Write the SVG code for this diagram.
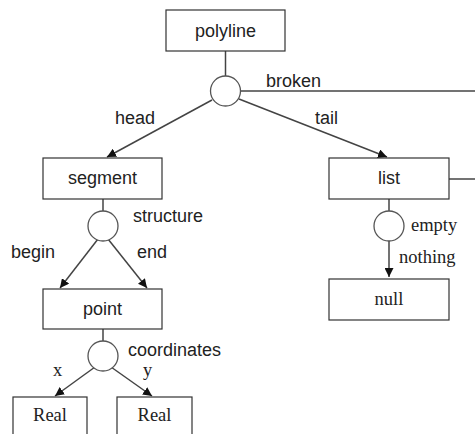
<svg xmlns="http://www.w3.org/2000/svg" width="475" height="434" viewBox="0 0 475 434">
<defs>
<marker id="arr" viewBox="0 0 10 10" refX="10" refY="5" markerWidth="9" markerHeight="9" markerUnits="userSpaceOnUse" orient="auto">
<path d="M0,0 L10,5 L0,10 z" fill="#111"/>
</marker>
</defs>
<style>
.box{fill:#fff;stroke:#333;stroke-width:1.2}
.jn{fill:#fff;stroke:#555;stroke-width:1.3}
.ln{fill:none;stroke:#444;stroke-width:1.5}
.ar{fill:none;stroke:#444;stroke-width:1.5;marker-end:url(#arr)}
.s{font-family:"Liberation Sans",Arial,sans-serif;font-size:18px;fill:#222}
.r{font-family:"Liberation Serif","Times New Roman",serif;font-size:18.5px;fill:#222}
.c{text-anchor:middle}
</style>
<rect width="475" height="434" fill="#fff"/>
<g id="connectors">
<line class="ln" x1="225.5" y1="51" x2="225.5" y2="77"/>
<line class="ln" x1="240" y1="91" x2="475" y2="91"/>
<line class="ar" x1="212" y1="100" x2="107" y2="157"/>
<line class="ar" x1="239" y1="99" x2="387" y2="157"/>
<line class="ln" x1="103" y1="199" x2="103" y2="212"/>
<line class="ar" x1="98" y1="239" x2="60" y2="288"/>
<line class="ar" x1="108" y1="239" x2="147" y2="288"/>
<line class="ln" x1="103" y1="329" x2="103" y2="342"/>
<line class="ar" x1="95" y1="367" x2="55" y2="396"/>
<line class="ar" x1="111" y1="367" x2="152" y2="396"/>
<line class="ln" x1="449" y1="179" x2="475" y2="179"/>
<line class="ln" x1="389" y1="199" x2="389" y2="212"/>
<line class="ar" x1="389" y1="240" x2="389" y2="277"/>
<text class="s" x="266" y="87">broken</text>
<text class="s" x="115" y="124">head</text>
<text class="s" x="315" y="124">tail</text>
<text class="s" x="133" y="222">structure</text>
<text class="s" x="11" y="258">begin</text>
<text class="s" x="137" y="258">end</text>
<text class="s" x="128" y="356">coordinates</text>
<text class="r" x="53" y="376">x</text>
<text class="r" x="143" y="376">y</text>
<text class="r" x="411" y="231">empty</text>
<text class="r" x="399" y="263">nothing</text>
</g>
<g id="polyline"><rect class="box" x="166" y="10" width="119" height="41"/><text class="s c" x="225.5" y="37">polyline</text></g>
<g id="j-polyline"><circle class="jn" cx="225.5" cy="91" r="15"/></g>
<g id="segment"><rect class="box" x="43" y="158" width="119" height="41"/><text class="s c" x="102.5" y="184">segment</text></g>
<g id="j-segment"><circle class="jn" cx="103" cy="226" r="15"/></g>
<g id="point"><rect class="box" x="43" y="289" width="119" height="40"/><text class="s c" x="102.5" y="315">point</text></g>
<g id="j-point"><circle class="jn" cx="103" cy="356" r="15"/></g>
<g id="real-x"><rect class="box" x="13" y="397" width="74" height="45"/><text class="r c" x="50" y="421">Real</text></g>
<g id="real-y"><rect class="box" x="117" y="397" width="75" height="45"/><text class="r c" x="154.5" y="421">Real</text></g>
<g id="list"><rect class="box" x="329" y="158" width="120" height="41"/><text class="s c" x="389" y="184">list</text></g>
<g id="j-list"><circle class="jn" cx="389" cy="226" r="15"/></g>
<g id="null"><rect class="box" x="329" y="279" width="120" height="41"/><text class="r c" x="389" y="305">null</text></g>
</svg>
